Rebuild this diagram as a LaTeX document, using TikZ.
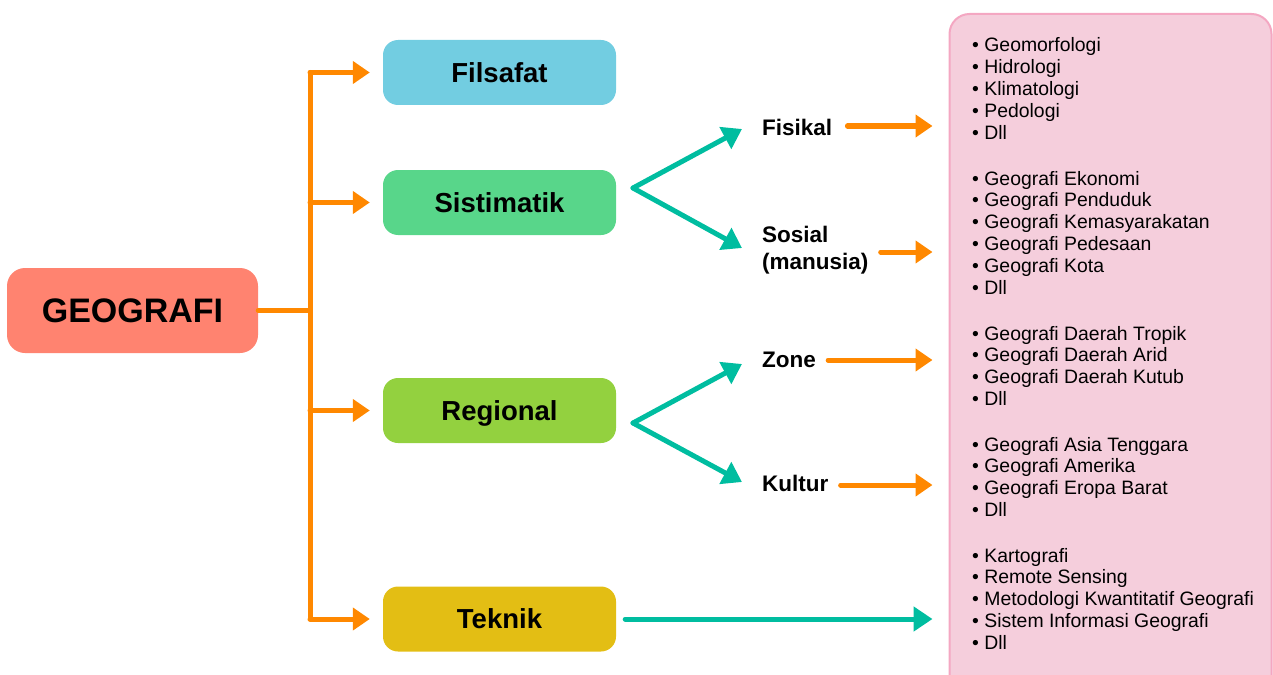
\documentclass[tikz,border=0pt]{standalone}
\usepackage{fontspec}
\setmainfont{Liberation Sans}
\usetikzlibrary{arrows.meta,calc}
\definecolor{salmon}{HTML}{FF8370}
\definecolor{cblue}{HTML}{72CDE1}
\definecolor{cgreen}{HTML}{58D68A}
\definecolor{clime}{HTML}{93D13F}
\definecolor{cgold}{HTML}{E3BE14}
\definecolor{corange}{HTML}{FF8800}
\definecolor{cteal}{HTML}{00BDA0}
\definecolor{pinkfill}{HTML}{F5CEDC}
\definecolor{pinkline}{HTML}{F4A7C2}
\tikzset{
  box/.style={rounded corners=15pt, minimum width=233pt, minimum height=65pt, inner sep=0pt,
    text height=19.7pt, text depth=0pt,
    font=\fontsize{27.5}{30}\selectfont\bfseries},
  lab/.style={anchor=west, inner sep=0pt, font=\fontsize{22.5}{27}\selectfont\bfseries, align=left},
  oline/.style={draw=corange, line width=5pt, line cap=round},
  oarrow/.style={oline, -{Triangle[length=17pt,width=22pt]}},
  tarrow/.style={draw=cteal, line width=5pt, line cap=round, line join=round, -{Triangle[length=19pt,width=24pt]}},
  item/.style={anchor=base west, inner sep=0pt, font=\fontsize{19.4}{22}\selectfont},
}
\begin{document}
\begin{tikzpicture}[x=1pt,y=-1pt]
\useasboundingbox (0,0) rectangle (1273,674);
% panel
\begin{scope}
\clip (0,0) rectangle (1273,674);
\node[draw=pinkline, fill=pinkfill, line width=2pt, rounded corners=20pt,
  minimum width=322pt, minimum height=690pt, inner sep=0pt] (panel) at (1110.5,359) {};
\end{scope}
% main nodes
\node[box, fill=salmon, rounded corners=18pt, minimum width=251pt, minimum height=85pt,
  text height=24.3pt, font=\fontsize{34}{36}\selectfont\bfseries] (geo) at (132.5,310.5) {GEOGRAFI};
\node[box, fill=cblue] (fil) at (499.5,72.5) {Filsafat};
\node[box, fill=cgreen] (sis) at (499.5,202.5) {Sistimatik};
\node[box, fill=clime] (reg) at (499.5,410.5) {Regional};
\node[box, fill=cgold] (tek) at (499.5,619) {Teknik};
% trunk
\coordinate (j) at (310,312);
\draw[oline] (geo.east) -- (geo.east -| j);
\draw[oline] (j |- fil.west) -- (j |- tek.west);
\foreach \n in {fil,sis,reg,tek}
  \draw[oarrow] (j |- \n.west) -- ([xshift=-13pt]\n.west);
% labels
\node[lab] (fis) at (762,127) {Fisikal};
\node[lab] (sos) at (762,250) {Sosial\\(manusia)};
\node[lab] (zon) at (762,360) {Zone};
\node[lab] (kul) at (762,483) {Kultur};
% teal branches
\coordinate (v1) at (633,188);
\coordinate (v2) at (633,423);
\coordinate (t1) at ($(fis.west)+(-20,2)$);
\coordinate (t2) at ($(sos.west)+(-20,-2)$);
\coordinate (t3) at ($(zon.west)+(-20,4)$);
\coordinate (t4) at ($(kul.west)+(-20,-1)$);
\draw[tarrow] (v1) -- (t1);
\draw[tarrow] (v1) -- (t2);
\draw[tarrow] (v2) -- (t3);
\draw[tarrow] (v2) -- (t4);
\draw[tarrow] ([xshift=9pt]tek.east) -- ([xshift=-16pt]tek.east -| panel.west);
% orange arrows to panel
\draw[oarrow] ($(fis.east)+(15,-1)$) -- ($(fis.east -| panel.west)+(-16,-1)$);
\draw[oarrow] ($(sos.east)+(12,2)$) -- ($(sos.east -| panel.west)+(-16,2)$);
\draw[oarrow] ($(zon.east)+(12,0)$) -- ($(zon.east -| panel.west)+(-16,0)$);
\draw[oarrow] ($(kul.east)+(12,2)$) -- ($(kul.east -| panel.west)+(-16,2)$);
% lists
\foreach \t [count=\i from 0] in {Geomorfologi,Hidrologi,Klimatologi,Pedologi,Dll}
  \node[item] (a\i) at (972,{52+21.8*\i}) {\textbullet\ \t};
\foreach \t [count=\i from 0] in {Geografi Ekonomi,Geografi Penduduk,Geografi Kemasyarakatan,Geografi Pedesaan,Geografi Kota,Dll}
  \node[item] (b\i) at (972,{185+21.8*\i}) {\textbullet\ \t};
\foreach \t [count=\i from 0] in {Geografi Daerah Tropik,Geografi Daerah Arid,Geografi Daerah Kutub,Dll}
  \node[item] (c\i) at (972,{340+21.8*\i}) {\textbullet\ \t};
\foreach \t [count=\i from 0] in {Geografi Asia Tenggara,Geografi Amerika,Geografi Eropa Barat,Dll}
  \node[item] (d\i) at (972,{451+21.8*\i}) {\textbullet\ \t};
\foreach \t [count=\i from 0] in {Kartografi,Remote Sensing,Metodologi Kwantitatif Geografi,Sistem Informasi Geografi,Dll}
  \node[item] (e\i) at (972,{562+21.8*\i}) {\textbullet\ \t};
\end{tikzpicture}
\end{document}
